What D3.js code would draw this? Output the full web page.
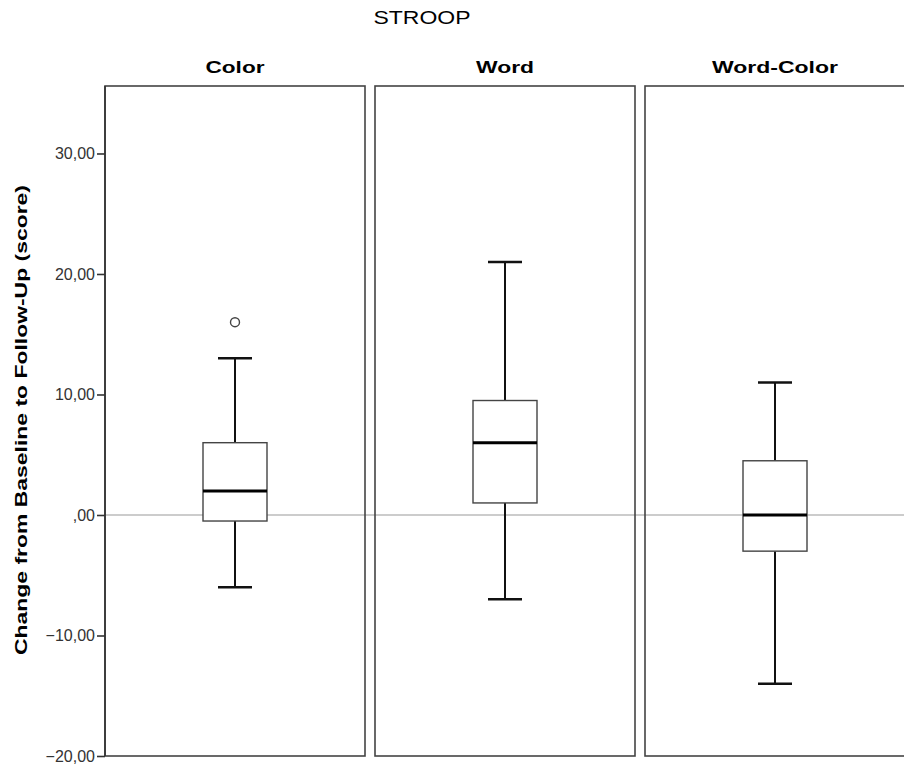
<!DOCTYPE html>
<html>
<head>
<meta charset="utf-8">
<script src="https://cdn.jsdelivr.net/npm/d3@7"></script>
<style>
  body { margin: 0; background: #fff; }
  svg { display: block; font-family: "Liberation Sans", Arial, sans-serif; }
</style>
</head>
<body>
<div id="chart"></div>
<script>
// data
var groups = ['Color', 'Word', 'Word-Color']
var whiskerLow  = [-6, -7, -14]
var q1          = [-0.5, 1, -3]
var medians     = [2, 6, 0]
var q3          = [6, 9.5, 4.5]
var whiskerHigh = [13, 21, 11]
var outliers    = [[16], [], []]
var yTicks = [-20, -10, 0, 10, 20, 30]

var width = 904, height = 774
var plotTop = 86, plotBottom = 756, plotLeft = 105

var svg = d3.select('#chart').append('svg')
  .attr('width', width)
  .attr('height', height)

var y = d3.scaleLinear().domain([-20, 35.6]).range([plotBottom, plotTop])

// one panel per group, 260px wide with 10px gaps (last one runs off the edge)
var x = d3.scaleBand().domain(groups)
  .range([plotLeft, plotLeft + 3 * 270 - 10])
  .paddingInner(10 / 270).paddingOuter(0)
var bw = x.bandwidth()

// zero reference line runs across all panels
svg.append('line')
  .attr('x1', plotLeft).attr('x2', width)
  .attr('y1', y(0)).attr('y2', y(0))
  .attr('stroke', '#999').attr('stroke-width', 1.2)

// header widths measured on the reference (text looks stretched)
var headerLen = [59, 58, 126]

groups.forEach(function(g, i) {
  var x0 = x(g)
  svg.append('rect')
    .attr('x', x0).attr('y', plotTop)
    .attr('width', bw).attr('height', plotBottom - plotTop)
    .attr('fill', 'none')
    .attr('stroke', '#444').attr('stroke-width', 1.6)

  svg.append('text')
    .attr('x', x0 + bw / 2).attr('y', 73)
    .attr('text-anchor', 'middle')
    .attr('textLength', headerLen[i]).attr('lengthAdjust', 'spacingAndGlyphs')
    .style('font-size', '17px').style('font-weight', 'bold')
    .text(g)

  var cx = x0 + bw / 2
  var boxW = 64, capW = 34

  // whiskers
  svg.append('line')
    .attr('x1', cx).attr('x2', cx)
    .attr('y1', y(whiskerHigh[i])).attr('y2', y(q3[i]))
    .attr('stroke', '#111').attr('stroke-width', 2)
  svg.append('line')
    .attr('x1', cx).attr('x2', cx)
    .attr('y1', y(q1[i])).attr('y2', y(whiskerLow[i]))
    .attr('stroke', '#111').attr('stroke-width', 2)
  ;[whiskerHigh[i], whiskerLow[i]].forEach(function(v) {
    svg.append('line')
      .attr('x1', cx - capW / 2).attr('x2', cx + capW / 2)
      .attr('y1', y(v)).attr('y2', y(v))
      .attr('stroke', '#111').attr('stroke-width', 2.5)
  })

  // box
  svg.append('rect')
    .attr('x', cx - boxW / 2).attr('y', y(q3[i]))
    .attr('width', boxW).attr('height', y(q1[i]) - y(q3[i]))
    .attr('fill', '#fff')
    .attr('stroke', '#444').attr('stroke-width', 1.4)
  svg.append('line')
    .attr('x1', cx - boxW / 2).attr('x2', cx + boxW / 2)
    .attr('y1', y(medians[i])).attr('y2', y(medians[i]))
    .attr('stroke', '#000').attr('stroke-width', 3)

  outliers[i].forEach(function(v) {
    svg.append('circle')
      .attr('cx', cx).attr('cy', y(v)).attr('r', 4.5)
      .attr('fill', 'none').attr('stroke', '#444').attr('stroke-width', 1.4)
  })
})

// y axis, SPSS style labels with comma decimals
var fmt = function(d) {
  var s = d3.format('.2f')(d).replace('.', ',')
  return d === 0 ? ',00' : s
}
var axis = svg.append('g')
  .attr('transform', 'translate(' + plotLeft + ',0)')
  .call(d3.axisLeft(y).tickValues(yTicks).tickFormat(fmt).tickSize(8).tickPadding(2))
axis.select('.domain').remove()
axis.selectAll('.tick line').attr('stroke', '#333').attr('stroke-width', 1.6)
axis.selectAll('.tick text')
  .attr('fill', '#333')
  .style('font-size', '16px')
  .style('font-family', '"Liberation Sans", Arial, sans-serif')
axis.append('line')
  .attr('x1', 0).attr('x2', 0).attr('y1', plotTop).attr('y2', plotBottom)
  .attr('stroke', '#333').attr('stroke-width', 1.6)

svg.append('text')
  .attr('x', 422).attr('y', 24)
  .attr('text-anchor', 'middle')
  .attr('textLength', 97).attr('lengthAdjust', 'spacingAndGlyphs')
  .style('font-size', '18px')
  .text('STROOP')

svg.append('text')
  .attr('transform', 'translate(27,420) rotate(-90)')
  .attr('text-anchor', 'middle')
  .attr('textLength', 470).attr('lengthAdjust', 'spacingAndGlyphs')
  .style('font-size', '17px').style('font-weight', 'bold')
  .text('Change from Baseline to Follow-Up (score)')
</script>
</body>
</html>
